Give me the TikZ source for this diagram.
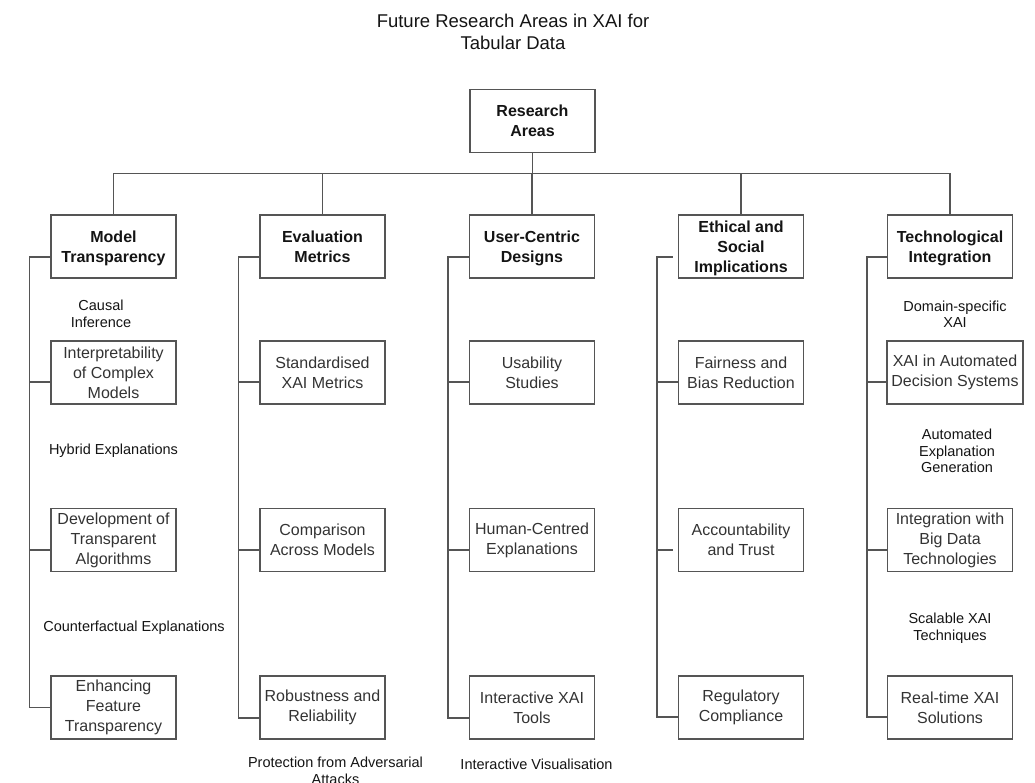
\documentclass[tikz,border=0pt]{standalone}
\usepackage{fontspec}
\setmainfont{Liberation Sans}
\definecolor{linec}{RGB}{85,85,85}
\definecolor{textc}{RGB}{51,51,51}
\definecolor{darkc}{RGB}{20,20,20}
\begin{document}
\begin{tikzpicture}[x=1pt,y=-1pt,
  box/.style={draw=linec, line width=1.3pt, minimum width=125pt, minimum height=63pt,
    inner sep=0pt, align=center, text=textc, font=\fontsize{16}{20}\selectfont},
  catbox/.style={box, text depth=0pt, text=darkc, font=\fontsize{16}{20}\selectfont\bfseries},
  note/.style={align=center, text=darkc, font=\fontsize{14.5}{16.5}\selectfont},
  link/.style={draw=linec, line width=1.3pt}]
\useasboundingbox (0,0) rectangle (1035,783);

% title
\node[align=center, text=darkc, font=\fontsize{18.5}{22}\selectfont] (title) at (513,32)
  {Future Research Areas in XAI for\\Tabular Data};

% root and categories
\node[catbox] (root) at (532.5,121) {Research\\Areas};
\node[catbox] (mt) at (113.5,246.5) {Model\\Transparency};
\node[catbox] (ev) at (322.5,246.5) {Evaluation\\Metrics};
\node[catbox] (uc) at (532,246.5) {User-Centric\\Designs};
\node[catbox] (et) at (741,246.5) {Ethical and\\Social\\Implications};
\node[catbox] (te) at (950,246.5) {Technological\\Integration};

% model transparency
\node[box] (mt1) at (113.5,372.5) {Interpretability\\of Complex\\Models};
\node[box] (mt2) at (113.5,540) {Development of\\Transparent\\Algorithms};
\node[box] (mt3) at (113.5,707.5) {Enhancing\\Feature\\Transparency};

% evaluation metrics
\node[box] (ev1) at (322.5,372.5) {Standardised\\XAI Metrics};
\node[box] (ev2) at (322.5,540) {Comparison\\Across Models};
\node[box] (ev3) at (322.5,707.5) {Robustness and\\Reliability};

% user-centric designs
\node[box] (uc1) at (532,372.5) {Usability\\Studies};
\node[box] (uc2) at (532,540) {Human-Centred\\Explanations};
\node[box] (uc3) at (532,707.5) {Interactive XAI\\Tools};

% ethical and social implications
\node[box] (et1) at (741,372.5) {Fairness and\\Bias Reduction};
\node[box] (et2) at (741,540) {Accountability\\and Trust};
\node[box] (et3) at (741,707.5) {Regulatory\\Compliance};

% technological integration
\node[box, minimum width=136pt] (te1) at (955,372.5) {XAI in Automated\\Decision Systems};
\node[box] (te2) at (950,540) {Integration with\\Big Data\\Technologies};
\node[box] (te3) at (950,707.5) {Real-time XAI\\Solutions};

% free-standing labels
\node[note] (n1) at (101,314) {Causal\\Inference};
\node[note] (n2) at (113.5,451) {Hybrid Explanations};
\node[note] (n3) at (134,628) {Counterfactual Explanations};
\node[note] (n4) at (335.5,771) {Protection from Adversarial\\Attacks};
\node[note] (n5) at (536.5,764) {Interactive Visualisation};
\node[note] (n6) at (955,314) {Domain-specific\\XAI};
\node[note] (n7) at (957,451) {Automated\\Explanation\\Generation};
\node[note] (n8) at (950,628) {Scalable XAI\\Techniques};

% root to categories
\coordinate (bus) at (0,173.5);
\foreach \c in {mt,ev,uc,et,te}
  \draw[link] (root.south) -- (root.south |- bus) -| (\c.north);

% category to items
\draw[link] ([yshift=-10.5pt]mt.west) -- ++(-21,0) |- ([yshift=-9.5pt]mt1.west);
\draw[link] ([yshift=-10.5pt]mt.west) -- ++(-21,0) |- ([yshift=-10pt]mt2.west);
\draw[link] ([yshift=-10.5pt]mt.west) -- ++(-21,0) |- (mt3.west);

\draw[link] ([yshift=-10.5pt]ev.west) -- ++(-21,0) |- ([yshift=-9.5pt]ev1.west);
\draw[link] ([yshift=-10.5pt]ev.west) -- ++(-21,0) |- ([yshift=-10pt]ev2.west);
\draw[link] ([yshift=-10.5pt]ev.west) -- ++(-21,0) |- ([yshift=-10.5pt]ev3.west);

\draw[link] ([yshift=-10.5pt]uc.west) -- ++(-21,0) |- ([yshift=-9.5pt]uc1.west);
\draw[link] ([yshift=-10.5pt]uc.west) -- ++(-21,0) |- ([yshift=-10pt]uc2.west);
\draw[link] ([yshift=-10.5pt]uc.west) -- ++(-21,0) |- ([yshift=-10.5pt]uc3.west);

\draw[link] ([xshift=-5pt,yshift=-10.5pt]et.west) -- ++(-16,0) |- ([yshift=-9.5pt]et1.west);
\draw[link] ([xshift=-5pt,yshift=-10.5pt]et.west) -- ++(-16,0) |- ([xshift=-5pt,yshift=-10pt]et2.west);
\draw[link] ([xshift=-5pt,yshift=-10.5pt]et.west) -- ++(-16,0) |- ([yshift=-9.5pt]et3.west);

\draw[link] ([yshift=-10.5pt]te.west) -- ++(-20,0) |- ([yshift=-9.5pt]te1.west);
\draw[link] ([yshift=-10.5pt]te.west) -- ++(-20,0) |- ([yshift=-10pt]te2.west);
\draw[link] ([yshift=-10.5pt]te.west) -- ++(-20,0) |- ([yshift=-9.5pt]te3.west);
\end{tikzpicture}
\end{document}
